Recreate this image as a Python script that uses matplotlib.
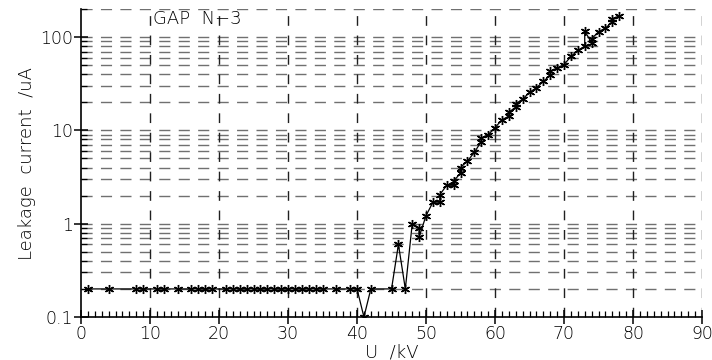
import numpy as np
import matplotlib.pyplot as plt
from matplotlib.ticker import FixedLocator, NullFormatter

U = [1, 4, 8, 9, 11, 12, 14, 16, 17, 18, 19, 21, 22, 23, 24, 25, 26, 27, 28, 29,
     30, 31, 32, 33, 34, 35, 37, 39, 40, 41, 42, 45, 46, 47, 48, 49, 49, 50,
     51, 52, 52, 53, 54, 54, 55, 55, 56, 57, 58, 58, 59, 60, 61, 62, 62, 63, 63,
     64, 65, 66, 67, 68, 68, 69, 70, 71, 72, 73, 73, 74, 74, 75, 76, 77, 77, 78]
I = [0.2] * 29 + [0.1, 0.2, 0.2, 0.6, 0.2, 1.0, 0.9, 0.72, 1.22,
     1.7, 1.7, 2.05, 2.58, 2.58, 2.85, 3.5, 4.0, 4.7, 5.8, 7.6, 8.3, 9.0, 10.7,
     13.0, 14.2, 15.8, 17.6, 19.3, 21.6, 25.6, 28.6, 33.5, 39.0, 43.0, 46.7,
     50.7, 62.0, 72.0, 80.0, 116.0, 87.0, 96.0, 114.0, 125.0, 145.0, 158.0, 168.0]

xmajor = np.arange(0, 91, 10)
ymajor = [0.1, 1, 10, 100]
ylabels = ['0.1', '1', '10', '100']
yminor = [m * d for d in [0.1, 1, 10, 100] for m in range(2, 10) if m * d <= 200]

fig = plt.figure(figsize=(7.12, 3.6), dpi=100)
ax = fig.add_axes([0.1138, 0.1194, 0.8722, 0.8556])

ax.set_yscale('log')
ax.set_xlim(0, 90)
ax.set_ylim(0.1, 200)

# grid: horizontal gray at every decade subdivision, vertical black every 10 kV
for y in ymajor[1:] + yminor:
    ax.axhline(y, color='#707070', lw=1.0, dashes=(8, 6), zorder=1)
for x in xmajor[1:]:
    ax.axvline(x, color='#202020', lw=1.0, dashes=(7, 7), zorder=1)

ax.plot(U, I, color='black', lw=0.9, marker=(6, 2, 0), ms=6.5, mew=1.0, zorder=3)

ax.xaxis.set_major_locator(FixedLocator(xmajor))
ax.xaxis.set_minor_locator(FixedLocator(np.arange(0, 91, 1)))
ax.yaxis.set_major_locator(FixedLocator(ymajor))
ax.yaxis.set_minor_locator(FixedLocator(yminor))
ax.set_yticklabels(ylabels)
ax.yaxis.set_minor_formatter(NullFormatter())

for s in ['top', 'right']:
    ax.spines[s].set_visible(False)
for s in ['left', 'bottom']:
    ax.spines[s].set_linewidth(1.2)

ax.tick_params(which='major', direction='inout', length=10, width=1.1,
               labelsize=12.5, pad=1, colors='black')
ax.tick_params(which='minor', direction='in', length=4, width=0.9)
for lab in ax.get_xticklabels() + ax.get_yticklabels():
    lab.set_fontweight('light')

ax.text(10.4, 158, 'GAP  N\u22123', fontsize=13, fontweight='light', va='center')
ax.set_xlabel('U  /kV', fontsize=13, fontweight='light', labelpad=0)
ax.set_ylabel('Leakage  current  /uA', fontsize=13, fontweight='light', labelpad=3)

fig.savefig('out.png', dpi=100)
